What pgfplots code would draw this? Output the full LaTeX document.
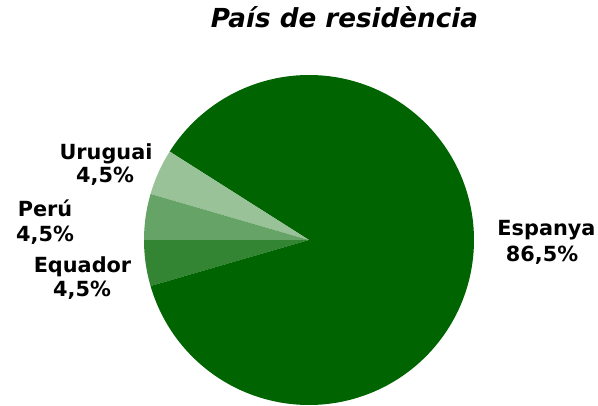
\documentclass[border=0pt]{standalone}
\usepackage{pgfplots}
\usepackage{pgfplotstable}
\pgfplotsset{compat=1.18}
\usepackage{fontspec}
\setmainfont{DejaVu Sans}
\definecolor{cEsp}{HTML}{006400}
\definecolor{cEqu}{HTML}{338533}
\definecolor{cPer}{HTML}{66A366}
\definecolor{cUru}{HTML}{99C299}
\pgfplotstableread{
name value
Equador 4.5
Espanya 86.5
Uruguai 4.5
Peru 4.5
}\piedata
\begin{document}
\begin{tikzpicture}
\pgfplotstablegetelem{0}{value}\of\piedata \let\vA\pgfplotsretval
\pgfplotstablegetelem{1}{value}\of\piedata \let\vB\pgfplotsretval
\pgfplotstablegetelem{2}{value}\of\piedata \let\vC\pgfplotsretval
\pgfplotstablegetelem{3}{value}\of\piedata \let\vD\pgfplotsretval
\pgfmathsetmacro\aA{180}
\pgfmathsetmacro\aB{\aA+3.6*\vA}
\pgfmathsetmacro\aC{\aB+3.6*\vB}
\pgfmathsetmacro\aD{\aC+3.6*\vC}
\pgfmathsetmacro\aE{\aD+3.6*\vD}
\begin{axis}[
  scale only axis, width=598bp, height=406bp,
  xmin=0, xmax=598, ymin=0, ymax=406,
  hide axis, clip=false,
]
\addplot[fill=cEqu, draw=none, domain=\aA:\aB, samples=40] ({309+165*cos(x)},{166+165*sin(x)}) -- (axis cs:309,166) -- cycle;
\addplot[fill=cEsp, draw=none, domain=\aB:\aC, samples=300] ({309+165*cos(x)},{166+165*sin(x)}) -- (axis cs:309,166) -- cycle;
\addplot[fill=cUru, draw=none, domain=\aC:\aD, samples=40] ({309+165*cos(x)},{166+165*sin(x)}) -- (axis cs:309,166) -- cycle;
\addplot[fill=cPer, draw=none, domain=\aD:\aE, samples=40] ({309+165*cos(x)},{166+165*sin(x)}) -- (axis cs:309,166) -- cycle;
\node[anchor=base, inner sep=0pt, font=\fontsize{26.3}{30}\selectfont\bfseries\itshape] at (axis cs:344.5,378) {País de residència};
\begin{scope}[every node/.style={anchor=base, inner sep=0pt, font=\fontsize{20.9}{24}\selectfont\bfseries}]
\node at (axis cs:546.5,170) {Espanya};
\node at (axis cs:542,144) {86,5\%};
\node at (axis cs:106,246) {Uruguai};
\node at (axis cs:105,223) {4,5\%};
\node at (axis cs:45,189) {Perú};
\node at (axis cs:45,164.5) {4,5\%};
\node at (axis cs:82.5,133) {Equador};
\node at (axis cs:82,109.5) {4,5\%};
\end{scope}
\end{axis}
\pgfresetboundingbox
\useasboundingbox (current axis.south west) rectangle (current axis.north east);
\end{tikzpicture}
\end{document}
